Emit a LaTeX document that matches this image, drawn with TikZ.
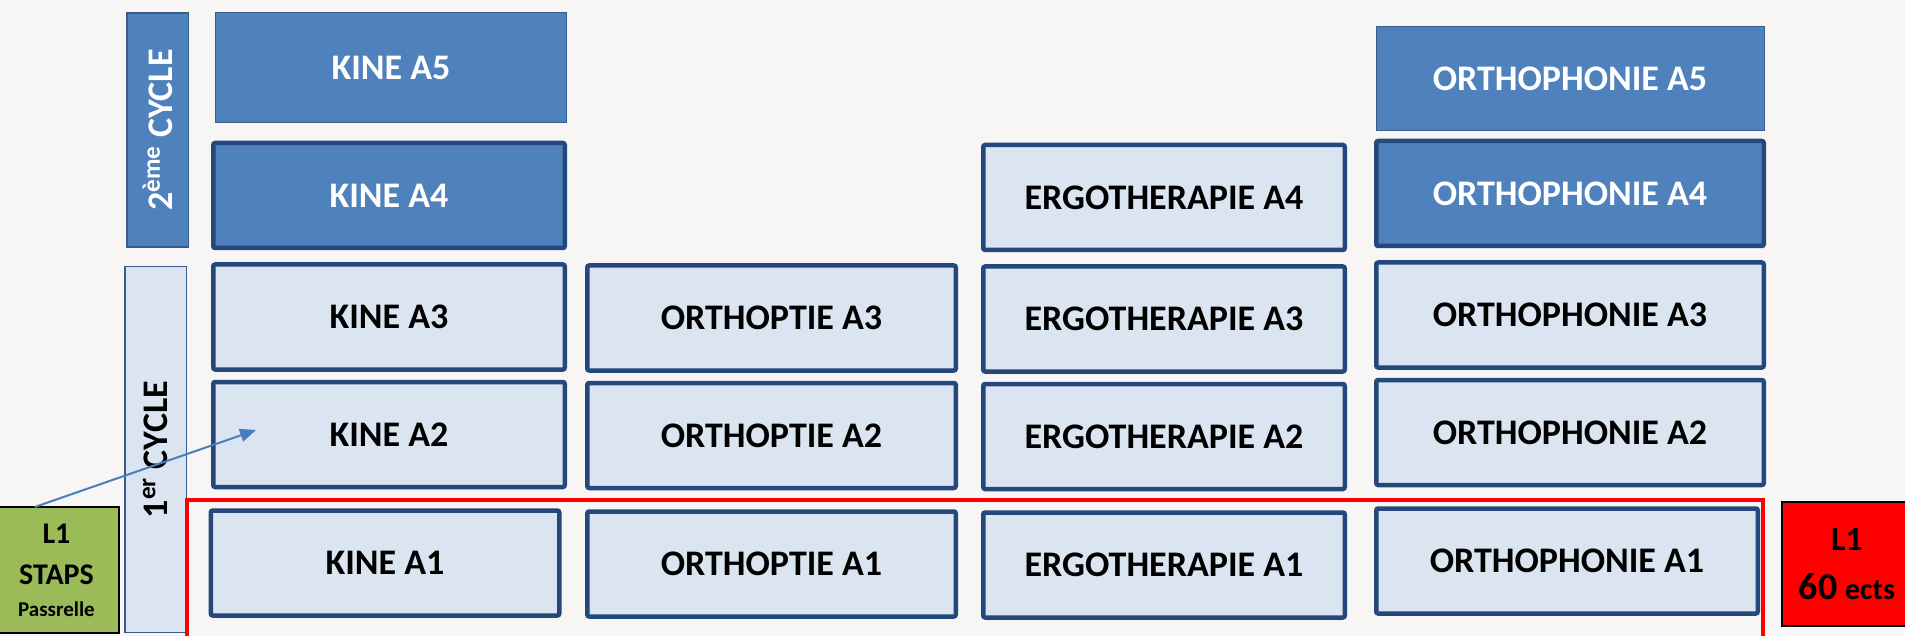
\documentclass[tikz,border=0pt]{standalone}
\usepackage{fontspec}
\setmainfont{Carlito}
\usetikzlibrary{arrows.meta, positioning}
\definecolor{pagebg}{RGB}{247,246,244}
\definecolor{boxfill}{RGB}{219,229,241}
\definecolor{boxdark}{RGB}{79,129,189}
\definecolor{boxline}{RGB}{36,72,124}
\definecolor{thinline}{RGB}{56,93,138}
\definecolor{stapsgreen}{RGB}{155,187,89}
\definecolor{arrowblue}{RGB}{74,126,187}
\tikzset{
  yearbox/.style={
    rectangle, draw=boxline, line width=2.25pt, fill=boxfill, rounded corners=1pt,
    minimum height=52.5pt, inner sep=0pt, outer sep=0pt,
    font=\fontsize{18}{21}\selectfont\bfseries
  },
  darkbox/.style={
    yearbox, fill=boxdark, text=white
  },
  topbox/.style={
    darkbox, draw=thinline, line width=0.5pt, rounded corners=0pt
  },
  cyclebar/.style={
    rectangle, draw=thinline, line width=0.75pt, rotate=90,
    minimum height=30.75pt, inner sep=0pt, outer sep=0pt,
    font=\fontsize{18}{21}\selectfont\bfseries
  },
  sidebox/.style={
    rectangle, draw=black, line width=0.6pt, inner sep=0pt, outer sep=0pt, align=center
  },
  frameline/.style={
    draw=red, line width=2pt
  },
  passarrow/.style={
    draw=arrowblue, line width=1pt, -{Triangle[length=8pt, width=6.5pt]}
  }
}

\begin{document}
\begin{tikzpicture}[x=0.5pt, y=-0.5pt]
  \useasboundingbox (0,0) rectangle (1905,636);
  \clip (0,0) rectangle (1905,636);
  \fill[pagebg] (0,0) rectangle (1905,636);

  % cycles
  \node[cyclebar, fill=boxdark, text=white, minimum width=117pt] (cycle2) at (157.5,130) {2\textsuperscript{ème} CYCLE};
  \node[cyclebar, fill=boxfill, minimum width=182.75pt] (cycle1) at (155.5,449.5) {1\textsuperscript{er} CYCLE};

  % KINE
  \node[yearbox, minimum width=174.25pt] (kineA) at (385,563) {KINE A1};
  \node[yearbox, minimum width=175.75pt, above=11.75pt of kineA, xshift=2pt] (kineB) {KINE A2};
  \node[yearbox, minimum width=175.75pt, above=6.25pt of kineB] (kineC) {KINE A3};
  \node[darkbox, minimum width=175.75pt, above=8.25pt of kineC] (kineD) {KINE A4};
  \node[topbox, minimum width=175.5pt, minimum height=55pt, above=10.25pt of kineD, xshift=1pt] (kineE) {KINE A5};

  % ORTHOPTIE
  \node[yearbox, minimum width=184.25pt] (optA) at (771.5,564) {ORTHOPTIE A1};
  \node[yearbox, minimum width=184.25pt, above=11.75pt of optA] (optB) {ORTHOPTIE A2};
  \node[yearbox, minimum width=184.25pt, above=6.25pt of optB] (optC) {ORTHOPTIE A3};

  % ERGOTHERAPIE
  \node[yearbox, minimum width=180.75pt] (ergoA) at (1164,565) {ERGOTHERAPIE A1};
  \node[yearbox, minimum width=180.75pt, above=11.75pt of ergoA] (ergoB) {ERGOTHERAPIE A2};
  \node[yearbox, minimum width=180.75pt, above=6.25pt of ergoB] (ergoC) {ERGOTHERAPIE A3};
  \node[yearbox, minimum width=180.75pt, above=8.25pt of ergoC] (ergoD) {ERGOTHERAPIE A4};

  % ORTHOPHONIE
  \node[yearbox, minimum width=190.75pt] (phonA) at (1567,561) {ORTHOPHONIE A1};
  \node[yearbox, minimum width=193.75pt, above=11.75pt of phonA, xshift=1.5pt] (phonB) {ORTHOPHONIE A2};
  \node[yearbox, minimum width=193.75pt, above=6.25pt of phonB] (phonC) {ORTHOPHONIE A3};
  \node[darkbox, minimum width=193.75pt, above=8.25pt of phonC] (phonD) {ORTHOPHONIE A4};
  \node[topbox, minimum width=194pt, minimum height=52pt, above=5.25pt of phonD] (phonE) {ORTHOPHONIE A5};

  % L1 frame
  \draw[frameline] (187,500) rectangle (1763,700);

  % side boxes
  \node[sidebox, fill=stapsgreen, minimum width=62.5pt, minimum height=63pt,
        font=\fontsize{15}{20.5}\selectfont\bfseries] (staps) at (56.5,570)
        {L1\\STAPS\\[-4.5pt]{\fontsize{10.5}{13}\selectfont Passrelle}};
  \node[sidebox, fill=red, minimum width=65pt, minimum height=62pt,
        font=\fontsize{17}{24.5}\selectfont\bfseries] (ects) at (1847,564)
        {L1\\{\fontsize{19}{24}\selectfont 60} {\fontsize{15}{18}\selectfont ects}};

  \draw[passarrow] (staps.109) -- ([xshift=21.4pt, yshift=2.25pt]kineB.west);
\end{tikzpicture}
\end{document}
